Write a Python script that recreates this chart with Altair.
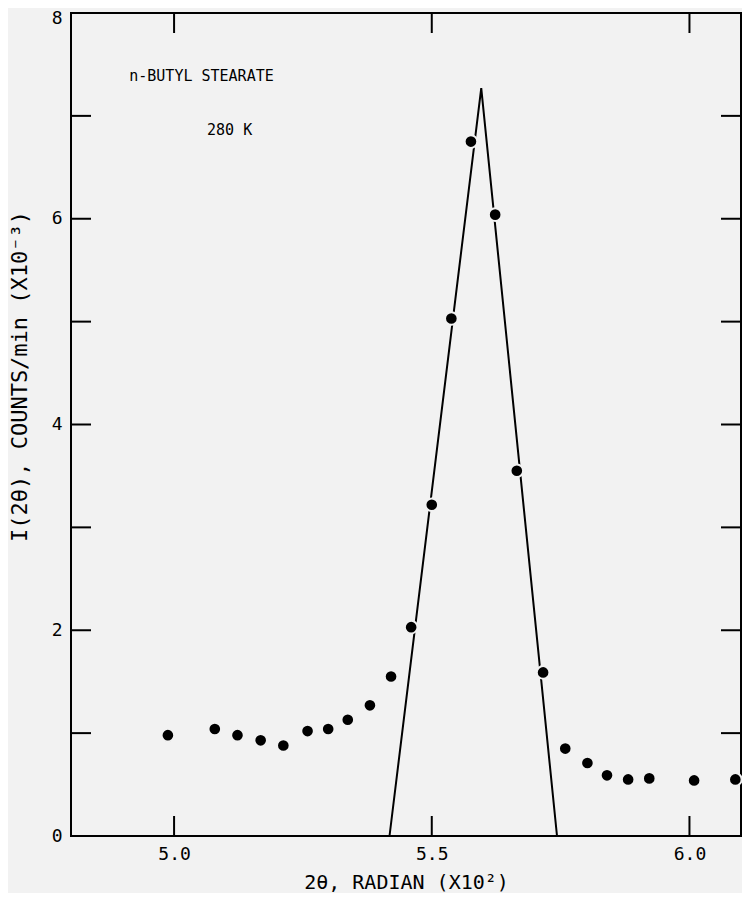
import altair as alt
import pandas as pd

# measured points
theta_x = [4.988, 5.079, 5.123, 5.168, 5.212, 5.259, 5.299, 5.337, 5.380, 5.421,
           5.460, 5.500, 5.538, 5.576, 5.623, 5.665, 5.716, 5.759, 5.802, 5.840,
           5.881, 5.922, 6.009, 6.089]
intensity = [0.98, 1.04, 0.98, 0.93, 0.88, 1.02, 1.04, 1.13, 1.27, 1.55,
             2.03, 3.22, 5.03, 6.75, 6.04, 3.55, 1.59, 0.85, 0.71, 0.59,
             0.55, 0.56, 0.54, 0.55]

# fitted triangle line
line_x = [5.418, 5.596, 5.743]
line_y = [0.0, 7.27, 0.0]

x_ticks = [5.0, 5.5, 6.0]
y_ticks = [0, 2, 4, 6, 8]
y_minor = [1, 2, 3, 4, 5, 6, 7]

notes_text = ["n-BUTYL STEARATE", "280 K"]
notes_x = [4.913, 5.064]
notes_y = [7.39, 6.86]

W, H = 670, 823
FONT = "DejaVu Sans Mono"
BG = "#f2f2f2"

pts = pd.DataFrame({"x": theta_x, "y": intensity})
ln = pd.DataFrame({"x": line_x, "y": line_y})
xt = pd.DataFrame({"v": x_ticks})
yt = pd.DataFrame({"v": y_minor})
notes = pd.DataFrame({"t": notes_text, "x": notes_x, "y": notes_y})

xscale = alt.Scale(domain=[4.8, 6.1], nice=False, zero=False)
yscale = alt.Scale(domain=[0, 8], nice=False)

xaxis = alt.Axis(values=x_ticks, format=".1f", title="2θ, RADIAN (X10²)",
                 grid=False, domain=False, ticks=False, labelPadding=9,
                 labelFontSize=18, titleFontSize=20, titleFontWeight="normal",
                 labelFont=FONT, titleFont=FONT, labelColor="black",
                 titleColor="black", titleY=56, titleBaseline="bottom")
yaxis = alt.Axis(values=y_ticks, format="d", title="I(2θ), COUNTS/min (X10⁻³)",
                 grid=False, domain=False, ticks=False, labelPadding=9,
                 labelFontSize=18, titleFontSize=22, titleFontWeight="normal",
                 labelFont=FONT, titleFont=FONT, labelColor="black",
                 labelOffset={"condition": {"test": "datum.value == 8", "value": 5},
                              "value": 0},
                 titleColor="black", titleX=-52, titleY=363, titleAngle=-90,
                 titleAlign="center", titleBaseline="middle")

base_line = alt.Chart(ln).mark_line(color="black", strokeWidth=2).encode(
    x=alt.X("x:Q", scale=xscale, axis=xaxis),
    y=alt.Y("y:Q", scale=yscale, axis=yaxis),
)

points = alt.Chart(pts).mark_circle(size=160, opacity=1, fill="black",
                                    stroke=BG, strokeWidth=2).encode(
    x=alt.X("x:Q", scale=xscale),
    y=alt.Y("y:Q", scale=yscale),
)

left_ticks = alt.Chart(yt).mark_rule(color="black", strokeWidth=2).encode(
    y=alt.Y("v:Q", scale=yscale), x=alt.value(0), x2=alt.value(20))
right_ticks = alt.Chart(yt).mark_rule(color="black", strokeWidth=2).encode(
    y=alt.Y("v:Q", scale=yscale), x=alt.value(W - 20), x2=alt.value(W))
bottom_ticks = alt.Chart(xt).mark_rule(color="black", strokeWidth=2).encode(
    x=alt.X("v:Q", scale=xscale), y=alt.value(H - 20), y2=alt.value(H))
top_ticks = alt.Chart(xt).mark_rule(color="black", strokeWidth=2).encode(
    x=alt.X("v:Q", scale=xscale), y=alt.value(0), y2=alt.value(20))

text = alt.Chart(notes).mark_text(align="left", baseline="middle", fontSize=15,
                                  font=FONT, color="black").encode(
    x=alt.X("x:Q", scale=xscale), y=alt.Y("y:Q", scale=yscale), text="t:N")

chart = alt.layer(
    base_line, points, left_ticks, right_ticks, bottom_ticks, top_ticks, text
).properties(
    width=W, height=H,
    autosize=alt.AutoSizeParams(type="none"),
    padding={"left": 63, "top": 5, "right": 1, "bottom": 57},
    background=BG,
).configure_view(stroke="black", strokeWidth=2)

chart.save("out.html", embed_options={"renderer": "svg", "actions": False})
